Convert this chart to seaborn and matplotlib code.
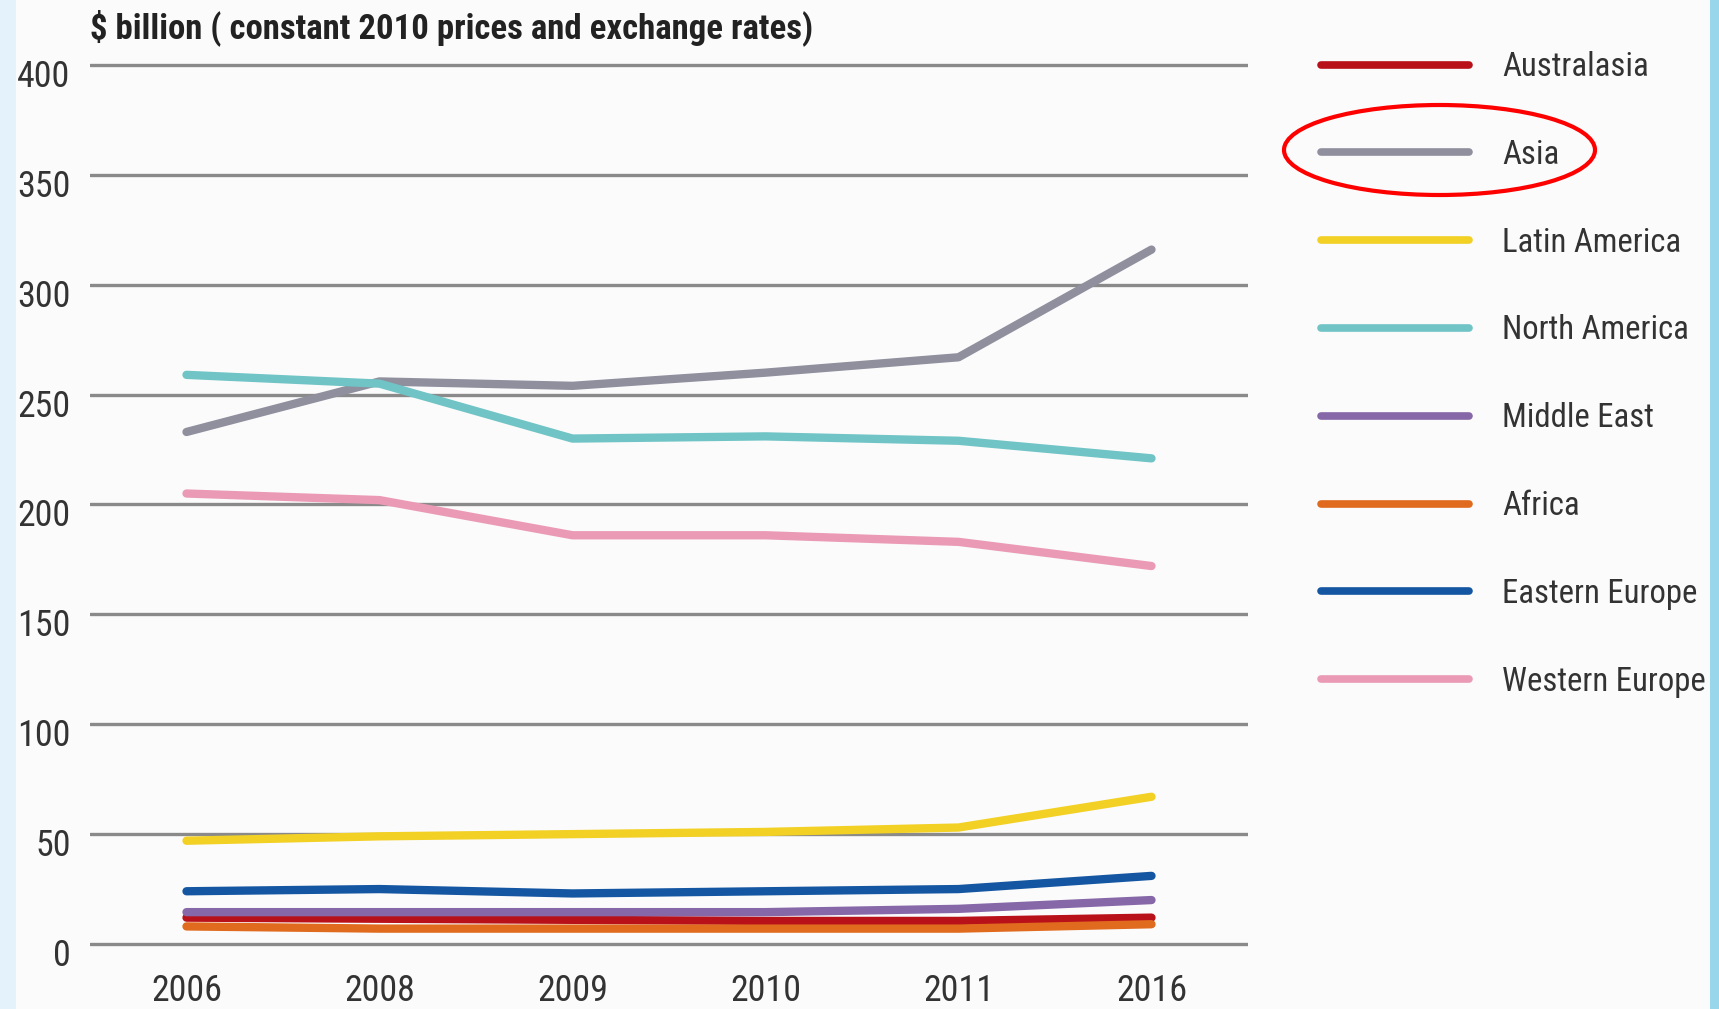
import matplotlib
matplotlib.use("Agg")
import matplotlib.pyplot as plt
from matplotlib import font_manager as fm
from matplotlib.font_manager import FontProperties
from matplotlib.patches import Ellipse, Rectangle
from matplotlib.lines import Line2D
from matplotlib.transforms import ScaledTranslation
import seaborn as sns
import pandas as pd

years = ["2006", "2008", "2009", "2010", "2011", "2016"]
regions = ["Australasia", "Asia", "Latin America", "North America",
           "Middle East", "Africa", "Eastern Europe", "Western Europe"]
australasia = [12, 11.5, 11, 10.5, 10.5, 12]
asia = [233, 256, 254, 260, 267, 316]
latin_america = [47, 49, 50, 51, 53, 67]
north_america = [259, 255, 230, 231, 229, 221]
middle_east = [14.5, 14.5, 14.5, 14.5, 16, 20]
africa = [8, 7, 7, 7, 7, 9]
eastern_europe = [24, 25, 23, 24, 25, 31]
western_europe = [205, 202, 186, 186, 183, 172]
series = [australasia, asia, latin_america, north_america,
          middle_east, africa, eastern_europe, western_europe]
colors = ["#b8111a", "#8f8f9e", "#f2d024", "#70c4c6",
          "#8667a8", "#e06a1e", "#1456a2", "#eb9ab6"]
yticks = [0, 50, 100, 150, 200, 250, 300, 350, 400]
title = "$ billion ( constant 2010 prices and exchange rates)"

rows = []
for reg, vals in zip(regions, series):
    for i, (yr, v) in enumerate(zip(years, vals)):
        rows.append({"region": reg, "idx": i, "year": yr, "value": v})
df = pd.DataFrame(rows)

sns.set_theme(style="white")
plt.rcParams["font.family"] = ["DejaVu Sans"]


# ---- pick a condensed sans font if one is installed ----
def pick_font(bold):
    bad = ["italic", "oblique", "light", "thin", "medium", "black",
           "extra", "semibold", "semi-bold", "mono"]
    found = {}
    for f in fm.fontManager.ttflist:
        base = f.fname.lower().rsplit("/", 1)[-1]
        if not ("narrow" in base or "condensed" in base):
            continue
        if "serif" in base and "sans" not in base:
            continue
        if any(b in base for b in bad):
            continue
        isbold = "bold" in base
        if isbold != bold:
            continue
        found.setdefault(f.name, f.fname)
    for pref in ["Liberation Sans Narrow", "Arial Narrow", "Roboto Condensed",
                 "Open Sans Condensed", "Noto Sans Condensed",
                 "DejaVu Sans Condensed", "DejaVu Sans"]:
        if pref in found:
            return FontProperties(fname=found[pref])
    if found:
        return FontProperties(fname=list(found.values())[0])
    fp = FontProperties(family="Roboto")
    if bold:
        fp.set_weight("bold")
    return fp


fp_reg = pick_font(False)
fp_bold = pick_font(True)

W, H = 1719, 1009
fig = plt.figure(figsize=(W / 100, H / 100), dpi=100, facecolor="#fbfbfb")
renderer = fig.canvas.get_renderer()


def fit_size(text, fp, target_px, ref=20.0, cap=None):
    f = fp.copy()
    f.set_size(ref)
    t = fig.text(0, 0, text, fontproperties=f)
    w = t.get_window_extent(renderer).width
    t.remove()
    s = ref * target_px / w
    if cap is not None:
        s = min(s, cap)
    return s


tick_size = fit_size("2006", fp_reg, 71, cap=30)
leg_size = fit_size("Australasia", fp_reg, 146, cap=28)
title_size = fit_size(title, fp_bold, 723, cap=28)

# axes geometry (pixels)
ax_left, ax_right = 90, 1248
y0_px, y400_px = 944, 65
ppu = (y0_px - y400_px) / 400.0
ylo, yhi = -3, 403
bot_px = y0_px + 3 * ppu
top_px = y400_px - 3 * ppu
ax = fig.add_axes([ax_left / W, 1 - bot_px / H, (ax_right - ax_left) / W,
                   (bot_px - top_px) / H])
ax.set_facecolor("none")

for yv in yticks:
    ax.axhline(yv, color="#8a8a8a", lw=2.4, zorder=1)

palette = dict(zip(regions, colors))
sns.lineplot(data=df, x="idx", y="value", hue="region", hue_order=regions,
             palette=palette, lw=6.0, ax=ax, legend=False, zorder=3,
             solid_capstyle="round", solid_joinstyle="round")

ax.set_xlim(-0.5, 5.5)
ax.set_ylim(ylo, yhi)
ax.set_xticks(range(len(years)))
ax.set_xticklabels(years)
ax.set_yticks(yticks)
ax.set_yticklabels([str(t) for t in yticks])
ax.set_xlabel("")
ax.set_ylabel("")
for s in ax.spines.values():
    s.set_visible(False)
ax.tick_params(axis="both", length=0, labelcolor="#333333")
ax.tick_params(axis="y", pad=14)
ax.tick_params(axis="x", pad=16)
tfp = fp_reg.copy()
tfp.set_size(tick_size)
for lbl in ax.get_xticklabels() + ax.get_yticklabels():
    lbl.set_fontproperties(tfp)
off = ScaledTranslation(0, -0.08, fig.dpi_scale_trans)
for lbl in ax.get_yticklabels():
    lbl.set_transform(lbl.get_transform() + off)

tbf = fp_bold.copy()
tbf.set_size(title_size)
fig.text(90 / W, 1 - 28 / H, title, fontproperties=tbf,
         color="#222222", ha="left", va="center")

handles = [Line2D([0], [0], color=c, lw=5.5, solid_capstyle="round")
           for c in colors]
lfp = fp_reg.copy()
lfp.set_size(leg_size)
handlelen = (148 / 100 * 72) / leg_size
textpad = (33 / 100 * 72) / leg_size
leg = fig.legend(handles, regions, loc="upper left",
                 bbox_to_anchor=(1321 / W, 1 - 51 / H), frameon=False,
                 prop=lfp, handlelength=handlelen, handletextpad=textpad,
                 labelspacing=1.705, borderpad=0, borderaxespad=0)
for t in leg.get_texts():
    t.set_color("#333333")

ell = Ellipse((1439.5 / W, 1 - 150 / H), 311 / W, 90 / H,
              transform=fig.transFigure, fill=False, edgecolor="#ff0000",
              lw=3.0, zorder=10)
fig.add_artist(ell)

fig.add_artist(Rectangle((0, 0), 16 / W, 1, transform=fig.transFigure,
                         facecolor="#e4f3fb", edgecolor="none", zorder=20))
fig.add_artist(Rectangle((1710 / W, 0), 9 / W, 1, transform=fig.transFigure,
                         facecolor="#98d7eb", edgecolor="none", zorder=20))

fig.savefig("out.png", dpi=100, facecolor=fig.get_facecolor())
